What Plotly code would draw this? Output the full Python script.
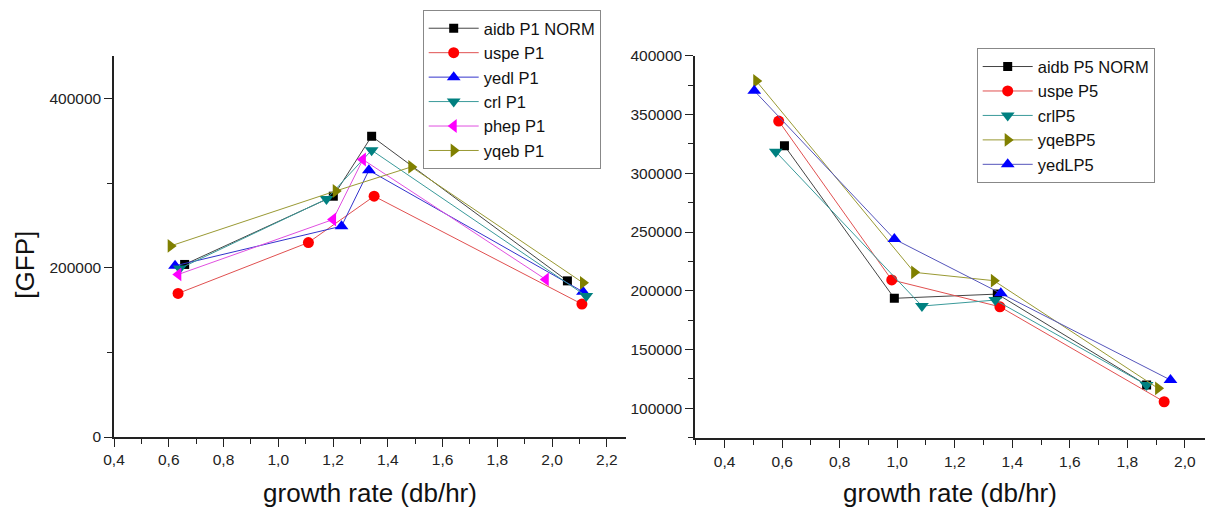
import plotly.graph_objects as go

# ---------- Left panel (P1) ----------
p1_names = ["aidb P1 NORM", "uspe P1", "yedl P1", "crl P1", "phep P1", "yqeb P1"]
aidb_p1_x = [0.658, 1.201, 1.341, 2.056]
aidb_p1_y = [203800, 284400, 355200, 184400]
uspe_p1_x = [0.634, 1.110, 1.350, 2.109]
uspe_p1_y = [169600, 229700, 284400, 157000]
yedl_p1_x = [0.623, 1.231, 1.331, 2.113]
yedl_p1_y = [202200, 249000, 315000, 171500]
crl_p1_x = [0.640, 1.176, 1.341, 2.125]
crl_p1_y = [199000, 281000, 338700, 166400]
phep_p1_x = [0.635, 1.200, 1.309, 1.977]
phep_p1_y = [192000, 256900, 327700, 186100]
yqeb_p1_x = [0.607, 1.210, 1.486, 2.113]
yqeb_p1_y = [225700, 290600, 319000, 182100]

# ---------- Right panel (P5) ----------
p5_names = ["aidb P5 NORM", "uspe P5", "crlP5", "yqeBP5", "yedLP5"]
aidb_p5_x = [0.608, 0.990, 1.348, 1.867]
aidb_p5_y = [323400, 193600, 197200, 119800]
uspe_p5_x = [0.588, 0.981, 1.357, 1.928]
uspe_p5_y = [344400, 209200, 186400, 105600]
crl_p5_x = [0.578, 1.086, 1.341, 1.867]
crl_p5_y = [318300, 187000, 192100, 119800]
yqeb_p5_x = [0.510, 1.059, 1.336, 1.907]
yqeb_p5_y = [378500, 215700, 208600, 117000]
yedl_p5_x = [0.503, 0.990, 1.360, 1.950]
yedl_p5_y = [370200, 244000, 197800, 124100]

x_title = "growth rate (db/hr)"
y_title = "[GFP]"

FONT = "Liberation Sans, Arial, sans-serif"

fig = go.Figure()

p1_series = [
    (p1_names[0], aidb_p1_x, aidb_p1_y, "square", "#000000", "#444444", 9),
    (p1_names[1], uspe_p1_x, uspe_p1_y, "circle", "#ff0000", "#e05050", 11),
    (p1_names[2], yedl_p1_x, yedl_p1_y, "triangle-up", "#0000ff", "#3333cc", 12),
    (p1_names[3], crl_p1_x, crl_p1_y, "triangle-down", "#008080", "#3a9a9a", 12),
    (p1_names[4], phep_p1_x, phep_p1_y, "triangle-left", "#ff00ff", "#e050e0", 12),
    (p1_names[5], yqeb_p1_x, yqeb_p1_y, "triangle-right", "#808000", "#999933", 12),
]
for name, xs, ys, sym, mc, lc, ms in p1_series:
    fig.add_trace(go.Scatter(
        x=xs, y=ys, name=name, mode="lines+markers",
        line=dict(color=lc, width=1),
        marker=dict(symbol=sym, color=mc, size=ms, line=dict(width=0)),
        xaxis="x", yaxis="y", legend="legend",
    ))

p5_series = [
    (p5_names[0], aidb_p5_x, aidb_p5_y, "square", "#000000", "#444444", 9),
    (p5_names[1], uspe_p5_x, uspe_p5_y, "circle", "#ff0000", "#e05050", 11),
    (p5_names[2], crl_p5_x, crl_p5_y, "triangle-down", "#008080", "#3a9a9a", 12),
    (p5_names[3], yqeb_p5_x, yqeb_p5_y, "triangle-right", "#808000", "#999933", 12),
    (p5_names[4], yedl_p5_x, yedl_p5_y, "triangle-up", "#0000ff", "#5555bb", 12),
]
for name, xs, ys, sym, mc, lc, ms in p5_series:
    fig.add_trace(go.Scatter(
        x=xs, y=ys, name=name, mode="lines+markers",
        line=dict(color=lc, width=1),
        marker=dict(symbol=sym, color=mc, size=ms, line=dict(width=0)),
        xaxis="x2", yaxis="y2", legend="legend2",
    ))

W, H = 1212, 508
axis_common = dict(
    showline=True, linecolor="#222222", linewidth=1.5,
    ticks="outside", ticklen=8, tickwidth=1.2, tickcolor="#222222",
    showgrid=False, zeroline=False, automargin=False,
    tickfont=dict(family=FONT, size=15.5, color="#222222"),
    mirror=False,
)
title_font = dict(family=FONT, size=26, color="#111111")
legend_font = dict(family=FONT, size=16.5, color="#111111")
minor_x = dict(dtick=0.1, tick0=0.4, ticks="outside", ticklen=5, tickcolor="#222222")

fig.update_layout(
    width=W, height=H,
    margin=dict(l=0, r=0, t=0, b=0, autoexpand=False),
    paper_bgcolor="white", plot_bgcolor="white",
    separators=",.",
    font=dict(family=FONT, color="#222222"),
    xaxis=dict(
        domain=[114 / W, 626 / W], range=[0.4, 2.27], anchor="y",
        dtick=0.2, tick0=0.4, tickformat=".1f", minor=minor_x,
        title=dict(text=x_title, font=title_font, standoff=18),
        **axis_common,
    ),
    yaxis=dict(
        domain=[1 - 437 / H, 1 - 56 / H], range=[0, 450000], anchor="x",
        dtick=200000, tick0=0, tickformat="d",
        minor=dict(dtick=100000, tick0=0, ticks="outside", ticklen=5, tickcolor="#222222"),
        **axis_common,
    ),
    xaxis2=dict(
        domain=[695 / W, 1205 / W], range=[0.297, 2.07], anchor="y2",
        dtick=0.2, tick0=0.4, tickformat=".1f", minor=minor_x,
        title=dict(text=x_title, font=title_font, standoff=18),
        **axis_common,
    ),
    yaxis2=dict(
        domain=[1 - 438.3 / H, 1 - 55.7 / H], range=[74500, 400000], anchor="x2",
        dtick=50000, tick0=0, tickformat="d",
        minor=dict(dtick=25000, tick0=0, ticks="outside", ticklen=5, tickcolor="#222222"),
        **axis_common,
    ),
    legend=dict(
        x=422.7 / W, y=1 - 10 / H, xanchor="left", yanchor="top",
        bordercolor="#888888", borderwidth=1, bgcolor="white",
        font=legend_font, tracegroupgap=0, itemwidth=50,
    ),
    legend2=dict(
        x=976.7 / W, y=1 - 48.3 / H, xanchor="left", yanchor="top",
        bordercolor="#888888", borderwidth=1, bgcolor="white",
        font=legend_font, tracegroupgap=0, itemwidth=50,
    ),
    annotations=[dict(
        text=y_title, xref="paper", yref="paper",
        x=24.7 / W, y=1 - 265 / H, xanchor="center", yanchor="middle",
        textangle=-90, showarrow=False, font=title_font,
    )],
)

fig.write_html("out.html", post_script="document.body.style.margin='0';",
               config={"displayModeBar": False})
